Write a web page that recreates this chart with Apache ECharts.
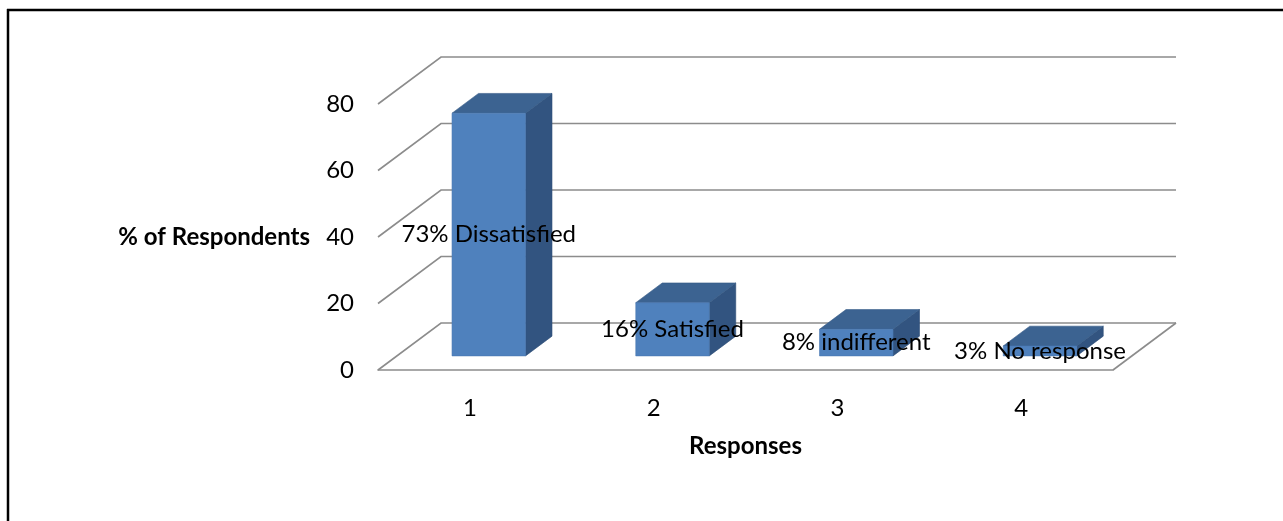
<!DOCTYPE html>
<html>
<head>
<meta charset="utf-8">
<script src="https://cdn.jsdelivr.net/npm/echarts@6/dist/echarts.min.js"></script>
<style>
  html, body { margin: 0; padding: 0; background: #fff; }
  #chart { width: 1283px; height: 521px; }
</style>
</head>
<body>
<div id="chart"></div>
<script>
// Survey responses, share of respondents per answer
const categories = ['1', '2', '3', '4'];
const values = [73, 16, 8, 3];
const responseNames = ['Dissatisfied', 'Satisfied', 'indifferent', 'No response'];
const yTicks = [0, 20, 40, 60, 80];

// Oblique projection of the depth axis (pixels from front plane to back wall)
const DEPTH_X = 63;
const DEPTH_Y = -47;
// Bars sit between these fractions of the depth
const BAR_NEAR = 0.3;
const BAR_FAR = 0.72;
const BAR_WIDTH_RATIO = 0.4;

const FONT = 'Lato, "Open Sans", sans-serif';
const FONT_SIZE = 24;
const GRID_COLOR = '#8c8c8c';

const chart = echarts.init(document.getElementById('chart'), null, { renderer: 'canvas' });

// Back wall and floor edges, one polyline per value tick
function renderWalls(params, api) {
  const t = api.value(1);
  const band = api.size([1, 0])[0];
  const left = api.coord([0, t]);
  const right = api.coord([categories.length - 1, t]);
  const xl = left[0] - band / 2;
  const xr = right[0] + band / 2;
  const y = left[1];
  const children = [{
    type: 'polyline',
    shape: { points: [[xl, y], [xl + DEPTH_X, y + DEPTH_Y], [xr + DEPTH_X, y + DEPTH_Y]] },
    style: { stroke: GRID_COLOR, lineWidth: 1.6, fill: null }
  }];
  if (t === 0) {
    children.push({
      type: 'line',
      shape: { x1: xr, y1: y, x2: xr + DEPTH_X, y2: y + DEPTH_Y },
      style: { stroke: GRID_COLOR, lineWidth: 1.6 }
    });
  }
  return { type: 'group', children: children };
}

// Box-shaped bar: side, top and front faces plus a centred label
function renderBox(params, api) {
  const idx = api.value(0);
  const v = api.value(1);
  const band = api.size([1, 0])[0];
  const top = api.coord([idx, v]);
  const base = api.coord([idx, 0]);
  const w = band * BAR_WIDTH_RATIO;
  const ox = DEPTH_X * BAR_NEAR, oy = DEPTH_Y * BAR_NEAR;
  const dx = DEPTH_X * (BAR_FAR - BAR_NEAR), dy = DEPTH_Y * (BAR_FAR - BAR_NEAR);
  const x0 = top[0] - w / 2 + ox;
  const x1 = x0 + w;
  const yt = top[1] + oy;
  const yb = base[1] + oy;
  return {
    type: 'group',
    children: [
      {
        type: 'polygon',
        shape: { points: [[x1, yt], [x1 + dx, yt + dy], [x1 + dx, yb + dy], [x1, yb]] },
        style: { fill: '#325480', stroke: '#2e4d75', lineWidth: 0.6 }
      },
      {
        type: 'polygon',
        shape: { points: [[x0, yt], [x1, yt], [x1 + dx, yt + dy], [x0 + dx, yt + dy]] },
        style: { fill: '#3c6391', stroke: '#355a86', lineWidth: 0.6 }
      },
      {
        type: 'rect',
        shape: { x: x0, y: yt, width: w, height: yb - yt },
        style: { fill: '#4f81bd', stroke: '#4a79b2', lineWidth: 0.6 }
      },
      {
        type: 'text',
        z2: 100,
        style: {
          x: (x0 + x1) / 2,
          y: (yt + yb) / 2,
          text: values[idx] + '% ' + responseNames[idx],
          align: 'center',
          verticalAlign: 'middle',
          fill: '#000',
          font: FONT_SIZE + 'px ' + FONT
        }
      }
    ]
  };
}

chart.setOption({
  animation: false,
  backgroundColor: '#fff',
  grid: { left: 378, right: 170, top: 104, bottom: 151 },
  xAxis: {
    type: 'category',
    data: categories,
    name: 'Responses',
    nameLocation: 'middle',
    nameGap: 64,
    nameTextStyle: { fontFamily: FONT, fontSize: FONT_SIZE, fontWeight: 'bold', color: '#000' },
    axisLine: { lineStyle: { color: GRID_COLOR, width: 1.6 } },
    axisTick: { length: 7, lineStyle: { color: GRID_COLOR, width: 1.6 } },
    axisLabel: { fontFamily: FONT, fontSize: FONT_SIZE, color: '#000', margin: 26 },
    splitLine: { show: false }
  },
  yAxis: {
    type: 'value',
    min: 0,
    max: 80,
    interval: 20,
    name: '% of Respondents',
    nameLocation: 'middle',
    nameRotate: 0,
    nameGap: 68,
    nameTextStyle: { fontFamily: FONT, fontSize: FONT_SIZE, fontWeight: 'bold', color: '#000' },
    axisLine: { show: false },
    axisTick: { show: false },
    axisLabel: { fontFamily: FONT, fontSize: FONT_SIZE, color: '#000', margin: 24 },
    splitLine: { show: false }
  },
  graphic: [
    { type: 'line', shape: { x1: 7, y1: 10, x2: 1283, y2: 10 }, style: { stroke: '#000', lineWidth: 2.5 } },
    { type: 'line', shape: { x1: 8, y1: 9, x2: 8, y2: 521 }, style: { stroke: '#000', lineWidth: 2.5 } }
  ],
  series: [
    {
      type: 'custom',
      name: 'walls',
      z: 1,
      renderItem: renderWalls,
      data: yTicks.map(t => [0, t]),
      encode: { x: 0, y: 1 },
      silent: true
    },
    {
      type: 'custom',
      name: 'Respondents',
      z: 3,
      renderItem: renderBox,
      data: values.map((v, i) => [i, v]),
      encode: { x: 0, y: 1 }
    }
  ]
});
</script>
</body>
</html>
